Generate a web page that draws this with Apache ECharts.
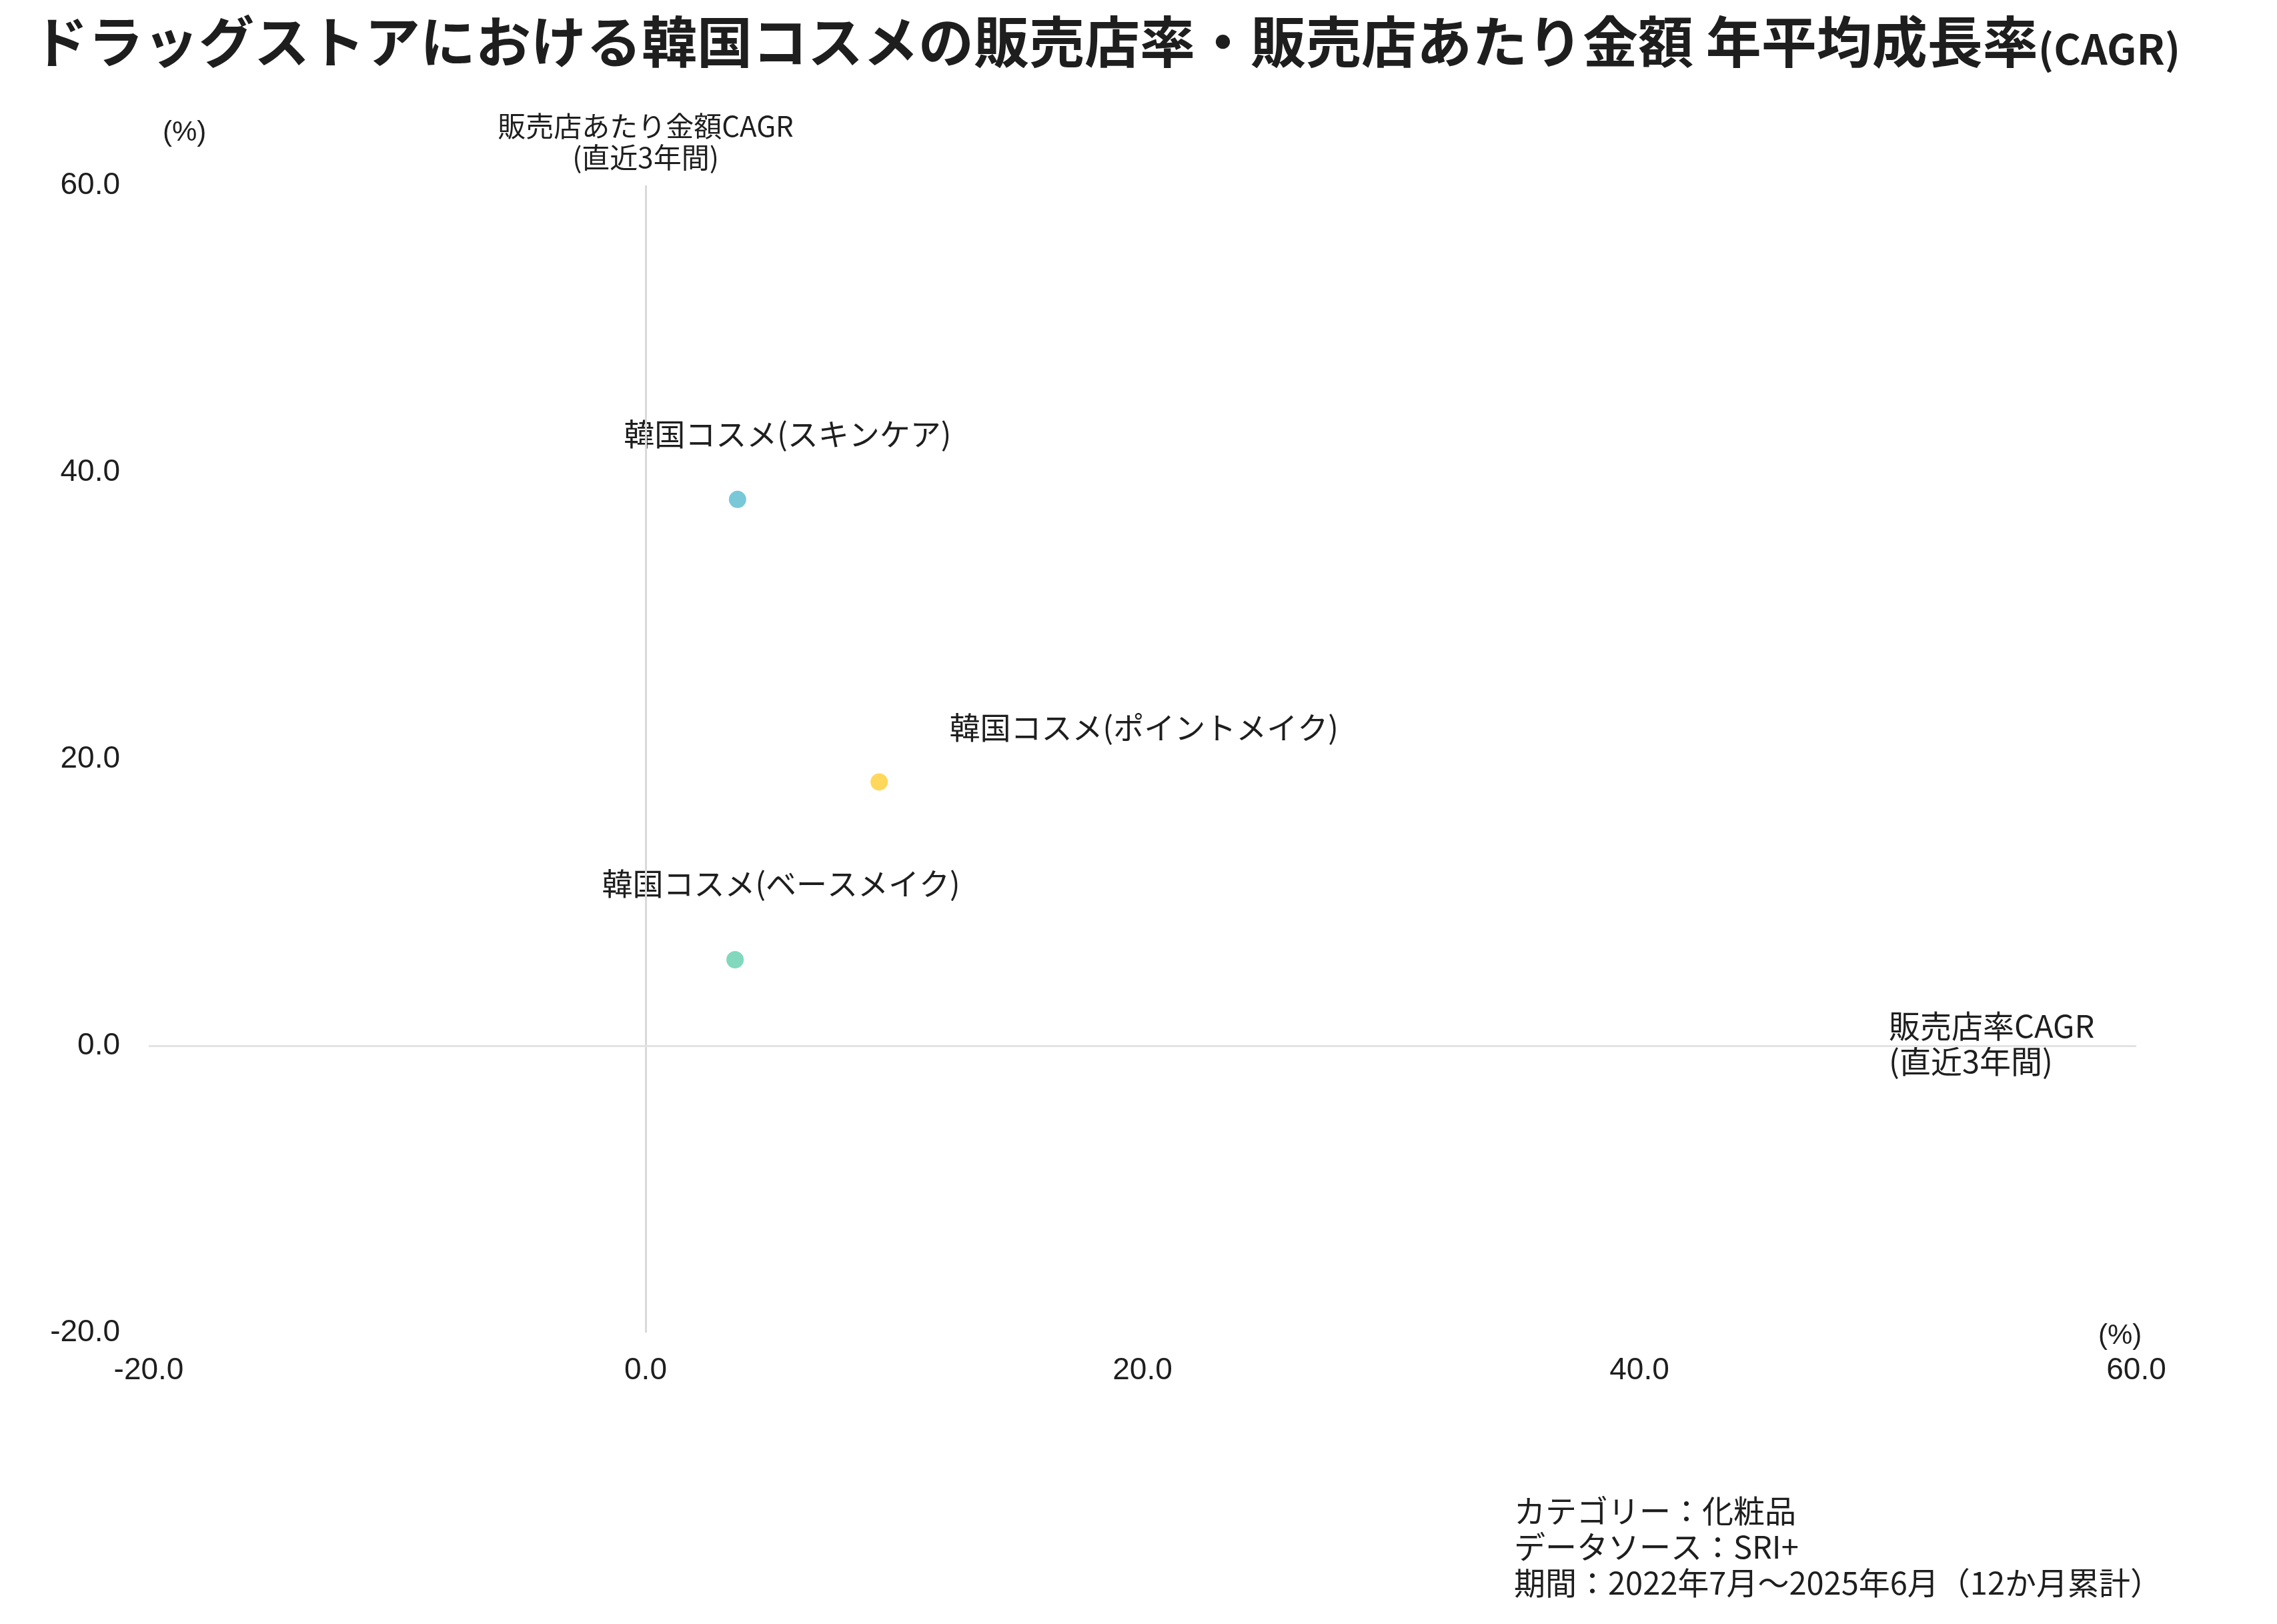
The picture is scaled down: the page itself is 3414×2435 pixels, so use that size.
<!DOCTYPE html>
<html>
<head>
<meta charset="utf-8">
<script src="https://cdn.jsdelivr.net/npm/echarts@6/dist/echarts.min.js"></script>
<style>
html,body{margin:0;padding:0;background:#fff;}
#main{width:3414px;height:2435px;}
</style>
</head>
<body>
<div id="main"></div>
<script>
// ---- data ----
var categories = ['韓国コスメ(スキンケア)', '韓国コスメ(ポイントメイク)', '韓国コスメ(ベースメイク)'];
var storeRateCAGR = [3.7, 9.4, 3.6];        // x: 販売店率CAGR (%)
var amountPerStoreCAGR = [38.1, 18.4, 6.0]; // y: 販売店あたり金額CAGR (%)
var pointColors = ['#78c8d8', '#ffd75a', '#82d8bc'];
var xTicks = [-20, 0, 20, 40, 60];
var yTicks = [-20, 0, 20, 40, 60];

var titleMain = 'ドラッグストアにおける韓国コスメの販売店率・販売店あたり金額 年平均成長率';
var titleSub = '(CAGR)';
var xName = '販売店率CAGR\n(直近3年間)';
var yName = '販売店あたり金額CAGR\n(直近3年間)';
var unitLabel = '(%)';
var footnote = ['カテゴリー：化粧品', 'データソース：SRI+', '期間：2022年7月～2025年6月（12か月累計）'];

// ---- layout/style ----
var JP = '"Noto Sans CJK JP", "Noto Sans", sans-serif';
var NUM = '"Liberation Sans", Arial, sans-serif';
var labelOffsets = [[75, -57], [397, -41], [69, -73]];

var chart = echarts.init(document.getElementById('main'));

var seriesData = categories.map(function (c, i) {
  return {
    name: c,
    value: [storeRateCAGR[i], amountPerStoreCAGR[i]],
    itemStyle: { color: pointColors[i], opacity: 1 },
    label: { offset: labelOffsets[i] }
  };
});

var option = {
  backgroundColor: '#ffffff',
  animation: false,
  title: {
    left: 44,
    top: 16,
    text: '{a|' + titleMain + '}{b|' + titleSub + '}',
    textStyle: {
      rich: {
        a: { fontFamily: JP, fontSize: 83, fontWeight: 'bold', color: '#1e1e1e' },
        b: { fontFamily: JP, fontSize: 62, fontWeight: 'bold', color: '#1e1e1e', verticalAlign: 'bottom' }
      }
    }
  },
  grid: { left: 223, right: 211, top: 278, bottom: 437, containLabel: false },
  xAxis: {
    type: 'value',
    min: xTicks[0], max: xTicks[xTicks.length - 1], interval: 20,
    axisLine: { show: false },
    axisTick: { show: false },
    splitLine: { show: false },
    axisLabel: {
      margin: 34,
      fontFamily: NUM, fontSize: 46, color: '#1e1e1e',
      formatter: function (v) { return v.toFixed(1); }
    }
  },
  yAxis: {
    type: 'value',
    min: yTicks[0], max: yTicks[yTicks.length - 1], interval: 20,
    axisLine: { show: false },
    axisTick: { show: false },
    splitLine: { show: false },
    axisLabel: {
      margin: 43,
      fontFamily: NUM, fontSize: 46, color: '#1e1e1e',
      formatter: function (v) { return v.toFixed(1); }
    }
  },
  series: [{
    type: 'scatter',
    symbolSize: 26,
    itemStyle: { opacity: 1 },
    data: seriesData,
    label: {
      show: true,
      position: 'top',
      distance: 5,
      opacity: 1,
      formatter: function (p) { return p.name; },
      fontFamily: JP, fontSize: 46, color: '#1e1e1e'
    },
    emphasis: { disabled: true },
    markLine: {
      silent: true,
      symbol: 'none',
      animation: false,
      label: { show: false },
      data: [
        { xAxis: 0, lineStyle: { color: '#d9d9d9', width: 3, type: 'solid', opacity: 1 } },
        { yAxis: 0, lineStyle: { color: '#e3e3e3', width: 3, type: 'solid', opacity: 1 } }
      ]
    }
  }],
  graphic: [
    { type: 'text', left: 244, top: 178, style: { text: unitLabel, fontFamily: NUM, fontSize: 42, fill: '#1e1e1e' } },
    { type: 'text', left: 3146, top: 1982, style: { text: unitLabel, fontFamily: NUM, fontSize: 42, fill: '#1e1e1e' } },
    { type: 'text', x: 968, y: 166, style: { text: yName, textAlign: 'center', fontFamily: JP, fontSize: 42, lineHeight: 47, fill: '#1e1e1e' } },
    { type: 'text', left: 2832, top: 1512, style: { text: xName, fontFamily: JP, fontSize: 47, lineHeight: 53, fill: '#1e1e1e' } },
    { type: 'text', left: 2270, top: 2238, style: { text: footnote.join('\n'), fontFamily: JP, fontSize: 47, lineHeight: 54, fill: '#1e1e1e' } }
  ]
};

chart.setOption(option);
</script>
</body>
</html>
